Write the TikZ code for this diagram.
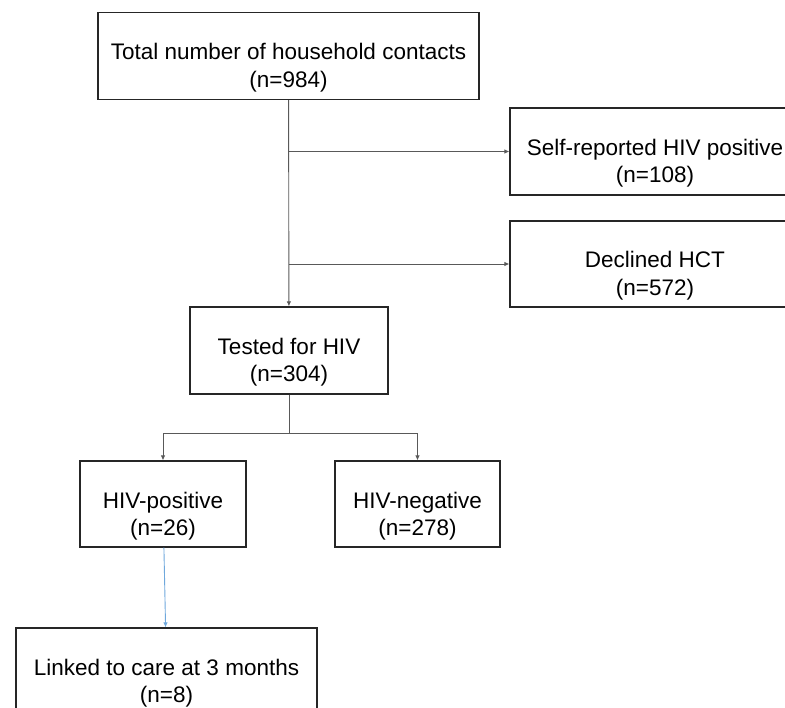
\documentclass[tikz,border=0pt]{standalone}
\usepackage{fontspec}
\setmainfont{Liberation Sans}
\usetikzlibrary{arrows.meta}
\definecolor{frame}{HTML}{262626}
\definecolor{wire}{HTML}{595959}
\definecolor{careblue}{HTML}{6FA8DC}
\tikzset{
  box/.style={draw=frame, line width=1.2pt, align=center, inner sep=0pt,
    font=\fontsize{22.5}{27.5}\selectfont, text height=70pt, text depth=7pt},
  wire/.style={draw=wire, line width=0.9pt},
  flow/.style={wire, -{Latex[length=5pt,width=4.5pt]}},
  care/.style={draw=careblue, line width=0.9pt, -{Latex[length=5pt,width=4.5pt]}},
}

\begin{document}
\begin{tikzpicture}[x=1pt,y=-1pt]
  \useasboundingbox (0,0) rectangle (785,708);
  \clip (0,0) rectangle (785,708);

  \node[box,minimum width=381pt,minimum height=87pt] (total) at (288.5,56)
    {Total number of household contacts\\(n=984)};
  \node[box,minimum width=290pt,minimum height=87pt] (self) at (655,151.5)
    {Self-reported HIV positive\\(n=108)};
  \node[box,minimum width=290pt,minimum height=86pt] (declined) at (655,264)
    {Declined HCT\\(n=572)};
  \node[box,minimum width=198pt,minimum height=87pt] (tested) at (289,350.5)
    {Tested for HIV\\(n=304)};
  \node[box,minimum width=166pt,minimum height=86pt] (pos) at (163,504)
    {HIV-positive\\(n=26)};
  \node[box,minimum width=165pt,minimum height=86pt] (neg) at (417.5,504)
    {HIV-negative\\(n=278)};
  \node[box,minimum width=301pt,minimum height=86pt] (linked) at (166.5,671)
    {Linked to care at 3 months\\(n=8)};

  % branch points
  \coordinate (toself) at (289,151.5);
  \coordinate (todecl) at (289,264);
  \coordinate (split) at (289,433);

  \draw[flow] (total) -- (tested);
  \draw[flow] (toself) -- (self);
  \draw[flow] (todecl) -- (declined);
  \draw[wire] (tested) -- (split);
  \draw[flow] (split) -| (pos);
  \draw[flow] (split) -| (neg);
  \draw[care] (pos) -- (linked);
\end{tikzpicture}
\end{document}
